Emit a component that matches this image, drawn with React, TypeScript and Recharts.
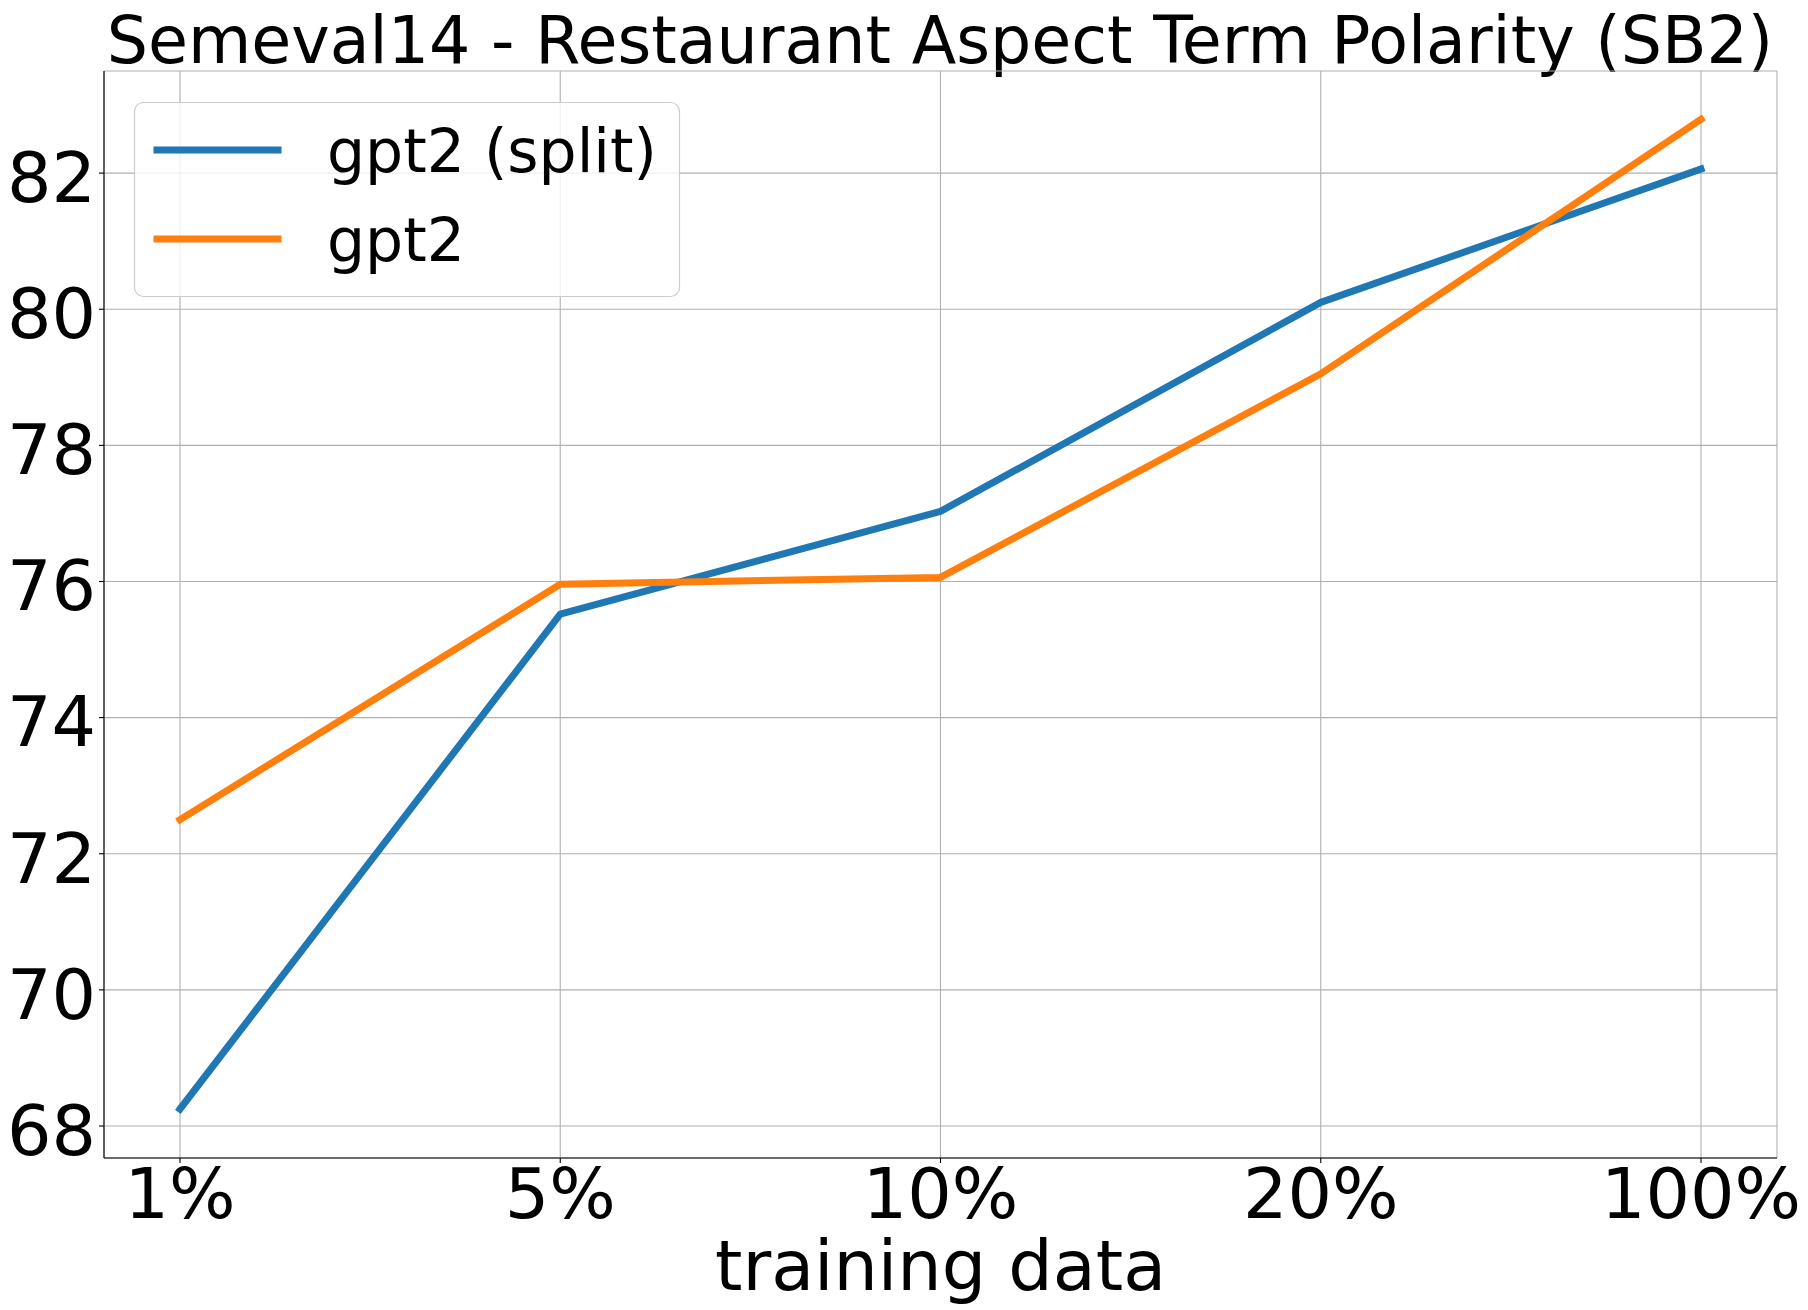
import { LineChart, Line, XAxis, YAxis, CartesianGrid, Legend } from "recharts";

const categories = ["1%", "5%", "10%", "20%", "100%"];
const gpt2Split = [68.25, 75.52, 77.03, 80.1, 82.06];
const gpt2 = [72.5, 75.96, 76.06, 79.05, 82.79];
const yTicks = [68, 70, 72, 74, 76, 78, 80, 82];

const data = categories.map((pct, i) => ({ pct, split: gpt2Split[i], plain: gpt2[i] }));

const FONT = "'DejaVu Sans', sans-serif";
const BLUE = "#1f77b4";
const ORANGE = "#ff7f0e";

const LegendBox = () => {
  const rows = [
    { label: "gpt2 (split)", color: BLUE, y: 48 },
    { label: "gpt2", color: ORANGE, y: 137 },
  ];
  return (
    <svg width={546} height={195} style={{ display: "block", overflow: "visible" }}>
      <rect
        x={0.5}
        y={0.5}
        width={545}
        height={194}
        rx={9}
        fill="rgba(255,255,255,0.8)"
        stroke="#cccccc"
        strokeWidth={1.2}
      />
      {rows.map((r) => (
        <g key={r.label}>
          <line x1={23} x2={144} y1={r.y} y2={r.y} stroke={r.color} strokeWidth={7} strokeLinecap="square" />
          <text x={193} y={r.y + 22} fontSize={60} fontFamily={FONT} fill="#000">
            {r.label}
          </text>
        </g>
      ))}
    </svg>
  );
};

const XLabel = (props: any) => {
  const vb = props.viewBox;
  return (
    <text x={vb.x + vb.width / 2} y={1290} textAnchor="middle" fontSize={70} fontFamily={FONT} fill="#000">
      training data
    </text>
  );
};

export default function App() {
  return (
    <div style={{ position: "absolute", left: 0, top: 0, width: 1808, height: 1310, background: "#fff" }}>
      <svg width={1808} height={90} style={{ position: "absolute", left: 0, top: 0 }}>
        <text x={940} y={63} textAnchor="middle" fontSize={65} fontFamily={FONT} fill="#000">
          Semeval14 - Restaurant Aspect Term Polarity (SB2)
        </text>
      </svg>
      <LineChart width={1808} height={1310} data={data} margin={{ top: 71, right: 31, bottom: 0, left: 0 }}>
        <CartesianGrid stroke="#b0b0b0" strokeWidth={1.1} />
        <XAxis
          dataKey="pct"
          height={152}
          padding={{ left: 76, right: 76 }}
          axisLine={{ stroke: "#000", strokeWidth: 1.1 }}
          tickLine={{ stroke: "#000", strokeWidth: 1.1 }}
          tickSize={5}
          tickMargin={5}
          tick={{ fontSize: 70, fontFamily: FONT, fill: "#000" }}
          interval={0}
          label={<XLabel />}
        />
        <XAxis xAxisId="top" orientation="top" dataKey="pct" height={0} tick={false} tickLine={false} axisLine={{ stroke: "#000", strokeWidth: 1.1 }} />
        <YAxis
          width={104}
          domain={[67.53, 83.5]}
          ticks={yTicks}
          allowDataOverflow
          axisLine={{ stroke: "#000", strokeWidth: 1.1 }}
          tickLine={{ stroke: "#000", strokeWidth: 1.1 }}
          tickSize={5}
          tickMargin={3}
          tick={{ fontSize: 70, fontFamily: FONT, fill: "#000", dy: 4 }}
        />
        <YAxis
          yAxisId="right"
          orientation="right"
          width={0}
          domain={[67.53, 83.5]}
          tick={false}
          tickLine={false}
          axisLine={{ stroke: "#000", strokeWidth: 1.1 }}
        />
        <Legend
          layout="vertical"
          align="center"
          verticalAlign="middle"
          wrapperStyle={{ left: 134, top: 102, width: 546, height: 195 }}
          content={() => <LegendBox />}
        />
        <Line
          dataKey="split"
          name="gpt2 (split)"
          stroke={BLUE}
          strokeWidth={7}
          strokeLinejoin="round"
          strokeLinecap="square"
          dot={false}
          activeDot={false}
          isAnimationActive={false}
        />
        <Line
          dataKey="plain"
          name="gpt2"
          stroke={ORANGE}
          strokeWidth={7}
          strokeLinejoin="round"
          strokeLinecap="square"
          dot={false}
          activeDot={false}
          isAnimationActive={false}
        />
      </LineChart>
    </div>
  );
}
